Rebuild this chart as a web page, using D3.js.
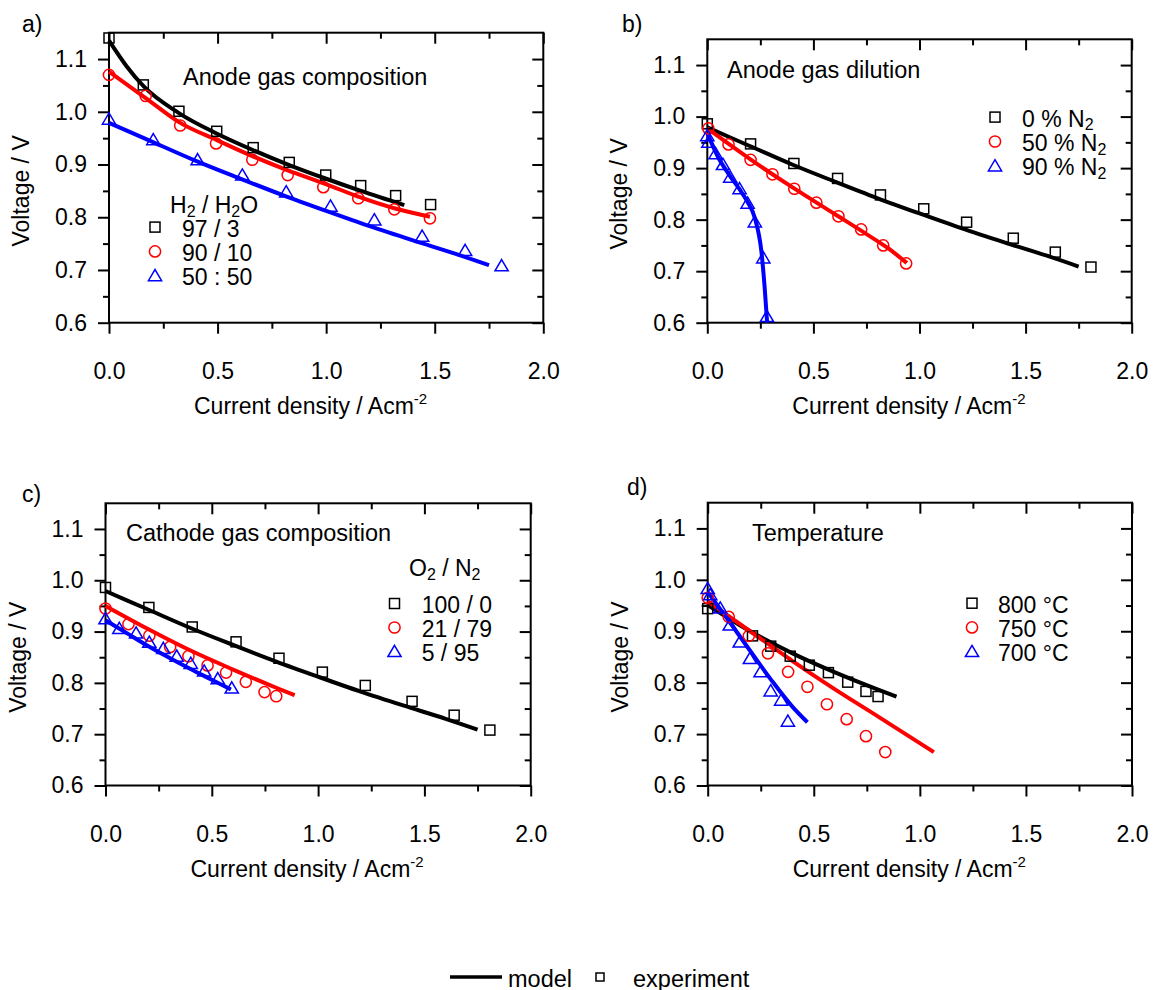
<!DOCTYPE html>
<html><head><meta charset="utf-8">
<script src="https://cdn.jsdelivr.net/npm/d3@7"></script>
<style>
body{margin:0;background:#fff}
text{font-family:"Liberation Sans",Arial,sans-serif;fill:#000}
</style>
</head><body>
<svg id="chart" width="1155" height="990"></svg>
<script>
// ---------- tick values ----------
const xMajor = [0, 0.5, 1.0, 1.5, 2.0];
const xMinor = [0.25, 0.75, 1.25, 1.75];
const yMajor = [0.6, 0.7, 0.8, 0.9, 1.0, 1.1];
const yMinor = [0.65, 0.75, 0.85, 0.95, 1.05];

// ---------- data: [current density, voltage] ----------
// reference cell (50:50 H2/H2O, 0 % N2, 100/0 O2/N2)
const refExp = [[0,0.986],[0.204,0.947],[0.408,0.909],[0.614,0.880],[0.816,0.848],[1.02,0.821],[1.222,0.795],[1.442,0.764],[1.64,0.737],[1.808,0.708]];
const refMod = [[0,0.979],[0.2,0.943],[0.4,0.907],[0.6,0.874],[0.8,0.842],[1.0,0.812],[1.2,0.783],[1.4,0.756],[1.6,0.73],[1.75,0.709]];

// a) anode gas composition
const aExp97 = [[0,1.14],[0.158,1.051],[0.322,1.001],[0.496,0.963],[0.664,0.932],[0.830,0.904],[0.998,0.880],[1.159,0.860],[1.320,0.841],[1.481,0.824]];
const aMod97 = [[0,1.135],[0.08,1.087],[0.16,1.048],[0.32,0.998],[0.5,0.958],[0.66,0.928],[0.83,0.899],[1.0,0.873],[1.16,0.85],[1.36,0.823]];
const aExp90 = [[0,1.07],[0.169,1.030],[0.328,0.974],[0.493,0.940],[0.660,0.909],[0.823,0.880],[0.987,0.857],[1.148,0.836],[1.314,0.815],[1.478,0.798]];
const aMod90 = [[0,1.076],[0.169,1.026],[0.328,0.979],[0.493,0.947],[0.66,0.916],[0.823,0.889],[0.998,0.863],[1.148,0.839],[1.314,0.817],[1.478,0.801]];

// b) anode gas dilution
const bExp50 = [[0.005,0.977],[0.1,0.946],[0.204,0.916],[0.307,0.888],[0.41,0.860],[0.514,0.833],[0.618,0.8065],[0.725,0.781],[0.829,0.750],[0.937,0.715]];
const bMod50 = [[0,0.977],[0.2,0.918],[0.4,0.863],[0.6,0.811],[0.75,0.772],[0.85,0.745],[0.94,0.716]];
const bExp90 = [[0,0.963],[0.005,0.950],[0.039,0.928],[0.074,0.907],[0.108,0.8825],[0.152,0.860],[0.19,0.832],[0.224,0.7955],[0.264,0.7258],[0.281,0.612]];
const bMod90 = [[0,0.968],[0.05,0.922],[0.108,0.884],[0.15,0.86],[0.19,0.834],[0.224,0.803],[0.255,0.738],[0.27,0.67],[0.282,0.6]];

// c) cathode gas composition
const cExp21 = [[0,0.945],[0.108,0.9145],[0.206,0.892],[0.304,0.87],[0.39,0.852],[0.48,0.834],[0.567,0.82],[0.66,0.802],[0.748,0.782],[0.803,0.774]];
const cMod21 = [[0,0.95],[0.2,0.905],[0.4,0.863],[0.6,0.826],[0.8,0.791],[0.89,0.776]];
const cExp5 = [[0,0.925],[0.065,0.906],[0.144,0.897],[0.206,0.879],[0.272,0.867],[0.335,0.852],[0.401,0.838],[0.464,0.823],[0.528,0.808],[0.594,0.79]];
const cMod5 = [[0,0.922],[0.1,0.897],[0.2,0.872],[0.3,0.849],[0.4,0.827],[0.5,0.806],[0.59,0.787]];

// d) temperature
const dExp800 = [[0,0.944],[0.211,0.891],[0.297,0.871],[0.389,0.8515],[0.479,0.834],[0.569,0.8195],[0.66,0.801],[0.746,0.783],[0.803,0.773]];
const dMod800 = [[0,0.951],[0.2,0.9],[0.4,0.857],[0.6,0.82],[0.8,0.787],[0.89,0.773]];
const dExp750 = [[0,0.965],[0.099,0.928],[0.194,0.891],[0.284,0.857],[0.379,0.821],[0.47,0.792],[0.562,0.758],[0.655,0.729],[0.746,0.696],[0.837,0.665]];
const dMod750 = [[0,0.958],[0.2,0.9],[0.4,0.842],[0.6,0.787],[0.8,0.735],[1.066,0.665]];
const dExp700 = [[0,0.983],[0.012,0.971],[0.059,0.945],[0.104,0.912],[0.151,0.879],[0.199,0.847],[0.249,0.821],[0.297,0.784],[0.346,0.766],[0.378,0.725]];
const dMod700 = [[0,0.976],[0.1,0.92],[0.2,0.862],[0.3,0.805],[0.4,0.753],[0.47,0.723]];

// legend labels
const aLegend = ["97 / 3", "90 / 10", "50 : 50"];
const bLegend = ["0 % N", "50 % N", "90 % N"];
const cLegend = ["100 / 0", "21 / 79", "5 / 95"];
const dLegend = ["800 °C", "750 °C", "700 °C"];

// ---------- styling ----------
const FONT = 23;
const TFONT = 23.5;
const SUB = 16, SUBDY = 3.5;
const colors = {sq:"#000000", ci:"#ff0000", tr:"#0000ff"};
const kinds = ["sq","ci","tr"];

const panels = [
  {letter:"a)", lx:22, ly:31.7, left:109, right:543.3, top:32.7, bottom:322.7,
   series:[[aExp97,aMod97],[aExp90,aMod90],[refExp,refMod]],
   title:"Anode gas composition", tx:183, ty:85,
   header:[["H",null],["2","sub"],[" / H",null],["2","sub"],["O",null]], hx:170, hy:213,
   legend:aLegend, sub:false, mx:155, tx2:182, ly0:236.6, dl:24.3},
  {letter:"b)", lx:622, ly:31.7, left:707.3, right:1131.7, top:39.3, bottom:322.7,
   series:[[refExp,refMod],[bExp50,bMod50],[bExp90,bMod90]],
   title:"Anode gas dilution", tx:727, ty:77.5,
   header:null, legend:bLegend, sub:true, mx:995, tx2:1022, ly0:126.6, dl:24.4},
  {letter:"c)", lx:22, ly:501.7, left:105.5, right:530.7, top:503.3, bottom:785.5,
   series:[[refExp,refMod],[cExp21,cMod21],[cExp5,cMod5]],
   title:"Cathode gas composition", tx:126, ty:540.7,
   header:[["O",null],["2","sub"],[" / N",null],["2","sub"]], hx:409, hy:576,
   legend:cLegend, sub:false, mx:394.5, tx2:421.7, ly0:613, dl:24},
  {letter:"d)", lx:627, ly:495, left:707.7, right:1132, top:502.7, bottom:785.5,
   series:[[dExp800,dMod800],[dExp750,dMod750],[dExp700,dMod700]],
   title:"Temperature", tx:752, ty:540.7,
   header:null, legend:dLegend, sub:false, mx:972, tx2:998, ly0:612.7, dl:24.2}
];

const svg = d3.select("#chart");

function marker(g, kind, cx, cy) {
  if (kind === "sq") {
    g.append("rect").attr("x", cx-5).attr("y", cy-5).attr("width", 10).attr("height", 10)
      .attr("fill","none").attr("stroke", colors.sq).attr("stroke-width",1.5);
  } else if (kind === "ci") {
    g.append("circle").attr("cx", cx).attr("cy", cy).attr("r", 5.6)
      .attr("fill","none").attr("stroke", colors.ci).attr("stroke-width",1.5);
  } else {
    g.append("path").attr("d", `M${cx},${cy-6.2} L${cx+6.6},${cy+5} L${cx-6.6},${cy+5} Z`)
      .attr("fill","none").attr("stroke", colors.tr).attr("stroke-width",1.5);
  }
}

function styleAxis(sel) {
  sel.select(".domain").remove();
  sel.selectAll("line").attr("stroke","#000").attr("stroke-width",2);
  sel.selectAll("text").attr("font-size",FONT).attr("font-family",'"Liberation Sans",Arial,sans-serif').attr("fill","#000");
}

panels.forEach(p => {
  const x = d3.scaleLinear().domain([0, 2.0]).range([p.left, p.right]);
  const y = d3.scaleLinear().domain([0.6, 1.15]).range([p.bottom, p.top]);
  const g = svg.append("g");

  // axes
  styleAxis(g.append("g").attr("transform",`translate(0,${p.bottom})`)
    .call(d3.axisBottom(x).tickValues(xMajor).tickSize(11).tickPadding(29).tickFormat(d3.format(".1f"))));
  styleAxis(g.append("g").attr("transform",`translate(0,${p.bottom})`)
    .call(d3.axisBottom(x).tickValues(xMinor).tickSize(6).tickFormat("")));
  styleAxis(g.append("g").attr("transform",`translate(0,${p.top})`)
    .call(d3.axisTop(x).tickValues(xMajor).tickSize(-11).tickFormat("")));
  styleAxis(g.append("g").attr("transform",`translate(0,${p.top})`)
    .call(d3.axisTop(x).tickValues(xMinor).tickSize(-6).tickFormat("")));
  styleAxis(g.append("g").attr("transform",`translate(${p.left},0)`)
    .call(d3.axisLeft(y).tickValues(yMajor).tickSize(11).tickPadding(11).tickFormat(d3.format(".1f"))));
  styleAxis(g.append("g").attr("transform",`translate(${p.left},0)`)
    .call(d3.axisLeft(y).tickValues(yMinor).tickSize(6).tickFormat("")));
  styleAxis(g.append("g").attr("transform",`translate(${p.right},0)`)
    .call(d3.axisRight(y).tickValues(yMajor).tickSize(-11).tickFormat("")));
  styleAxis(g.append("g").attr("transform",`translate(${p.right},0)`)
    .call(d3.axisRight(y).tickValues(yMinor).tickSize(-6).tickFormat("")));

  g.append("rect").attr("x",p.left).attr("y",p.top).attr("width",p.right-p.left).attr("height",p.bottom-p.top)
    .attr("fill","none").attr("stroke","#000").attr("stroke-width",2);

  // axis titles
  g.append("text").attr("transform",`translate(${p.left-80},${y(0.85)}) rotate(-90)`)
    .attr("text-anchor","middle").attr("font-size",FONT).text("Voltage / V");
  const xt = g.append("text").attr("x", p.left+85).attr("y", p.bottom+91).attr("font-size",FONT);
  xt.append("tspan").text("Current density / Acm");
  xt.append("tspan").attr("font-size",15).attr("dy",-10).text("-2");

  // panel letter
  g.append("text").attr("x",p.lx).attr("y",p.ly).attr("font-size",FONT).text(p.letter);

  // lines
  const line = d3.line().x(d=>x(d[0])).y(d=>y(d[1])).curve(d3.curveMonotoneX);
  p.series.forEach((s,i) => {
    g.append("path").datum(s[1]).attr("d", line).attr("fill","none")
      .attr("stroke", colors[kinds[i]]).attr("stroke-width",4).attr("stroke-linecap","butt");
  });
  // markers
  p.series.forEach((s,i) => {
    s[0].forEach(d => marker(g, kinds[i], x(d[0]), y(d[1])));
  });

  // annotation title
  g.append("text").attr("x",p.tx).attr("y",p.ty).attr("font-size",TFONT).text(p.title);

  // legend header
  if (p.header) {
    const h = g.append("text").attr("x",p.hx).attr("y",p.hy).attr("font-size",FONT);
    let prev = null;
    p.header.forEach(([t,k]) => {
      let dy = 0;
      if (k === "sub" && prev !== "sub") dy = SUBDY;
      if (k !== "sub" && prev === "sub") dy = -SUBDY;
      const ts = h.append("tspan").attr("dy", dy).text(t);
      if (k === "sub") ts.attr("font-size", SUB);
      prev = k;
    });
  }
  // legend entries
  p.legend.forEach((lab,i) => {
    const by = p.ly0 + i*p.dl;
    marker(g, kinds[i], p.mx, by-9.5);
    const t = g.append("text").attr("x",p.tx2).attr("y",by).attr("font-size",FONT);
    t.append("tspan").text(lab);
    if (p.sub) t.append("tspan").attr("font-size",SUB).attr("dy",SUBDY).text("2");
  });
});

// bottom legend
const lg = svg.append("g");
lg.append("line").attr("x1",450).attr("x2",502).attr("y1",977).attr("y2",977).attr("stroke","#000").attr("stroke-width",3.5);
lg.append("text").attr("x",508).attr("y",986.5).attr("font-size",TFONT).text("model");
lg.append("rect").attr("x",596).attr("y",973).attr("width",8).attr("height",8).attr("fill","none").attr("stroke","#000").attr("stroke-width",1.5);
lg.append("text").attr("x",633).attr("y",986.5).attr("font-size",TFONT).text("experiment");
</script>
</body></html>
